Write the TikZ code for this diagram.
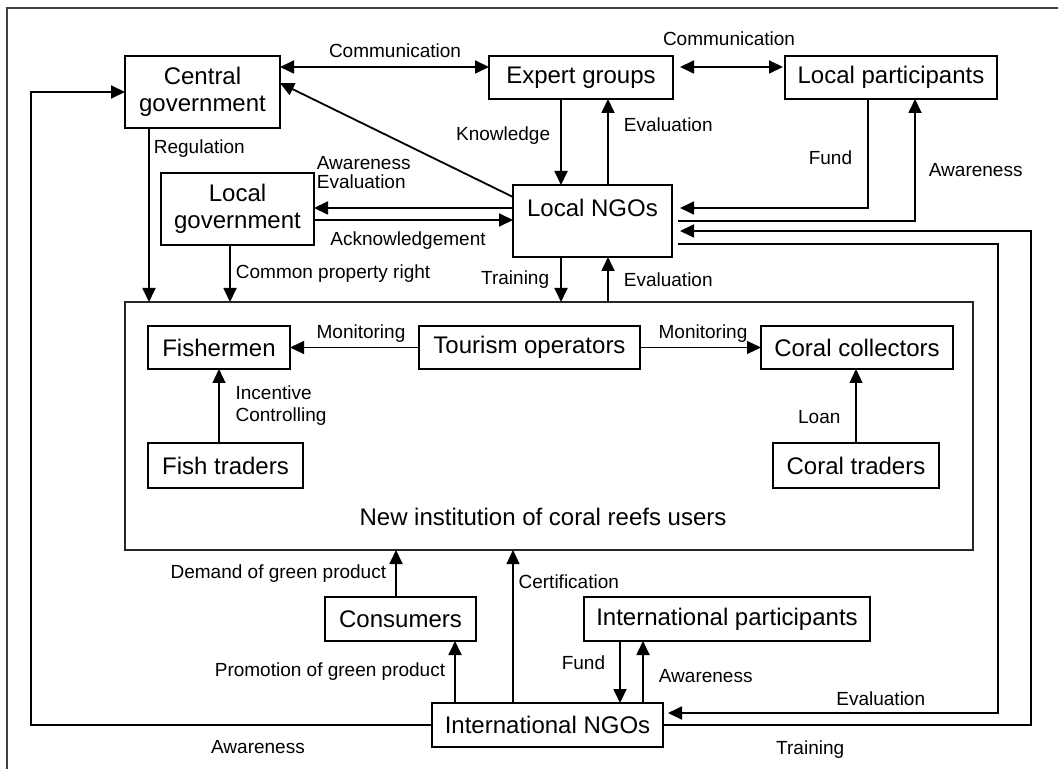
\documentclass[tikz,border=0pt]{standalone}
\usepackage{fontspec}
\setmainfont{Liberation Sans}
\usetikzlibrary{arrows.meta}

\tikzset{
  box/.style={draw, line width=0.9pt, inner sep=0pt, outer sep=0pt, align=center,
    font=\fontsize{12}{13.5}\selectfont},
  lbl/.style={font=\fontsize{9.5}{10.5}\selectfont, inner sep=2pt},
  flow/.style={->, line width=0.9pt},
  thinflow/.style={->, line width=0.6pt},
}

\begin{document}
\begin{tikzpicture}[x=0.5pt, y=-0.5pt, >={Triangle[length=7pt,width=6.5pt]}]

\useasboundingbox (0,0) rectangle (1058,769);
\draw[line width=0.8pt, black!75] (1058,8) -- (7,8) -- (7,769);

% boxes
\node[box, minimum width=77.5pt, minimum height=36pt] (cgov) at (202.5,92) {Central\\government};
\node[box, minimum width=92pt, minimum height=21.5pt] (expert) at (581,77.5) {Expert groups};
\node[box, minimum width=106pt, minimum height=21.5pt] (lpart) at (891,77.5) {Local participants};
\node[box, minimum width=76.5pt, minimum height=36pt] (lgov) at (237.5,209) {Local\\government};
\node[box, minimum width=79.5pt, minimum height=36pt, text height=9pt, text depth=13pt] (lngo) at (592.5,221) {Local NGOs};

\node[draw, line width=0.8pt, black!85, inner sep=0pt, outer sep=0pt, minimum width=424pt, minimum height=124pt] (inst) at (549,426) {};
\node[box, minimum width=71pt, minimum height=21.5pt] (fish) at (219,347.5) {Fishermen};
\node[box, minimum width=110.5pt, minimum height=21.5pt] (tour) at (529.5,347.5) {Tourism operators};
\node[box, minimum width=96pt, minimum height=21.5pt] (coll) at (857,347.5) {Coral collectors};
\node[box, minimum width=77.5pt, minimum height=22.5pt] (ftrad) at (225.5,465.5) {Fish traders};
\node[box, minimum width=83pt, minimum height=22.5pt] (ctrad) at (856,465.5) {Coral traders};
\node[font=\fontsize{12}{13.5}\selectfont] (instname) at (543,517) {New institution of coral reefs users};

\node[box, minimum width=75.5pt, minimum height=22pt] (cons) at (400.5,619) {Consumers};
\node[box, minimum width=143pt, minimum height=22pt] (ipart) at (727,619) {International participants};
\node[box, minimum width=115.5pt, minimum height=22pt] (ingo) at (547.5,725) {International NGOs};

\coordinate (awx) at (31,0);
\coordinate (evx) at (998,0);
\coordinate (trx) at (1031,0);

% top part
\draw[<->, line width=0.9pt] ([yshift=12.5pt]cgov.east) -- ([yshift=12.5pt]cgov.east -| expert.west)
  node[lbl, midway, above, xshift=5.25pt, yshift=2pt] {Communication};
\draw[<->, line width=0.9pt, shorten <=3.5pt, shorten >=1pt] ([yshift=5.25pt]expert.east) -- ([yshift=5.25pt]expert.east -| lpart.west)
  node[lbl, midway, above=8pt] {Communication};
\draw[flow] ([xshift=-10pt]expert.south) -- ([xshift=-10pt]expert.south |- lngo.north)
  node[lbl, pos=0.42, left=3pt] {Knowledge};
\draw[flow] ([xshift=7.75pt]lngo.north) -- ([xshift=7.75pt]lngo.north |- expert.south)
  node[lbl, pos=0.7, right=5.5pt] {Evaluation};
\draw[flow, shorten >=4pt] ([xshift=-11.5pt]lpart.south) |- ([yshift=6.5pt]lngo.east)
  node[lbl, pos=0.27, left=5.5pt] {Fund};
\draw[flow, shorten <=3pt] (lngo.east) -| ([xshift=12pt]lpart.south)
  node[lbl, pos=0.71, right=4.5pt] {Awareness};
\draw[flow] ([yshift=12pt]lngo.west) -- ([yshift=4.5pt]cgov.east);
\draw[flow] ([yshift=6.5pt]lngo.west) -- ([yshift=6.5pt]lngo.west -| lgov.east)
  node[lbl, pos=1, anchor=south west, align=left, inner sep=0pt, xshift=1pt, yshift=9pt,
    font=\fontsize{9.5}{9.6}\selectfont] {Awareness\\Evaluation};
\draw[flow] ([yshift=-5.5pt]lgov.east) -- ([yshift=-5.5pt]lgov.east -| lngo.west)
  node[lbl, midway, below=3.5pt, xshift=-2.75pt] {Acknowledgement};

% into the institution
\draw[flow] ([xshift=-26.75pt]cgov.south) -- ([xshift=-26.75pt]cgov.south |- inst.north)
  node[lbl, pos=0.12, right=0pt] {Regulation};
\draw[flow] ([xshift=-3.75pt]lgov.south) -- ([xshift=-3.75pt]lgov.south |- inst.north)
  node[lbl, midway, right=0.5pt] {Common property right};
\draw[flow] ([xshift=-15.75pt]lngo.south) -- ([xshift=-15.75pt]lngo.south |- inst.north)
  node[lbl, midway, left=3.5pt] {Training};
\draw[flow] ([xshift=7.75pt]lngo.south |- inst.north) -- ([xshift=7.75pt]lngo.south)
  node[lbl, midway, right=5.5pt] {Evaluation};

% inside the institution
\draw[thinflow] (tour.west) -- (fish.east) node[lbl, midway, above=0pt, xshift=3.25pt] {Monitoring};
\draw[thinflow] (tour.east) -- (coll.west) node[lbl, midway, above=0pt, xshift=1.25pt] {Monitoring};
\draw[thinflow] ([xshift=-3.25pt]ftrad.north) -- ([xshift=-3.25pt]ftrad.north |- fish.south)
  node[lbl, midway, right=6pt, align=left, font=\fontsize{9.5}{11}\selectfont] {Incentive\\Controlling};
\draw[thinflow] (ctrad.north) -- (ctrad.north |- coll.south)
  node[lbl, pos=0.35, left=5.5pt] {Loan};

% bottom part
\draw[flow] ([xshift=-2.25pt]cons.north) -- ([xshift=-2.25pt]cons.north |- inst.south)
  node[lbl, midway, left=2.5pt] {Demand of green product};
\draw[flow] ([xshift=-46.25pt]ingo.north) -- ([xshift=-46.25pt]ingo.north |- cons.south)
  node[lbl, midway, left=2.5pt] {Promotion of green product};
\draw[thinflow] ([xshift=-17.25pt]ingo.north) -- ([xshift=-17.25pt]ingo.north |- inst.south)
  node[lbl, pos=0.79, right=0.5pt] {Certification};
\draw[flow] ([xshift=-53.5pt]ipart.south) -- ([xshift=-53.5pt]ipart.south |- ingo.north)
  node[lbl, pos=0.35, left=5pt] {Fund};
\draw[flow] ([xshift=47.75pt]ingo.north) -- ([xshift=47.75pt]ingo.north |- ipart.south)
  node[lbl, pos=0.44, right=5.5pt] {Awareness};

% long loops
\draw[flow] (ingo.west) -- node[lbl, pos=0.434, below=5.5pt] {Awareness} (ingo.west -| awx)
  -- (cgov.west -| awx) -- (cgov.west);
\draw[flow, shorten >=4pt] (ingo.east) -- node[lbl, pos=0.4, below=5.5pt] {Training} (ingo.east -| trx)
  -- ([yshift=-5pt]lngo.east -| trx) -- ([yshift=-5pt]lngo.east);
\draw[flow, shorten <=3pt, shorten >=2.5pt] ([yshift=-11.5pt]lngo.east) -- ([yshift=-11.5pt]lngo.east -| evx)
  -- ([yshift=6pt]ingo.east -| evx) -- node[lbl, pos=0.35, above=1pt] {Evaluation} ([yshift=6pt]ingo.east);

\end{tikzpicture}
\end{document}
